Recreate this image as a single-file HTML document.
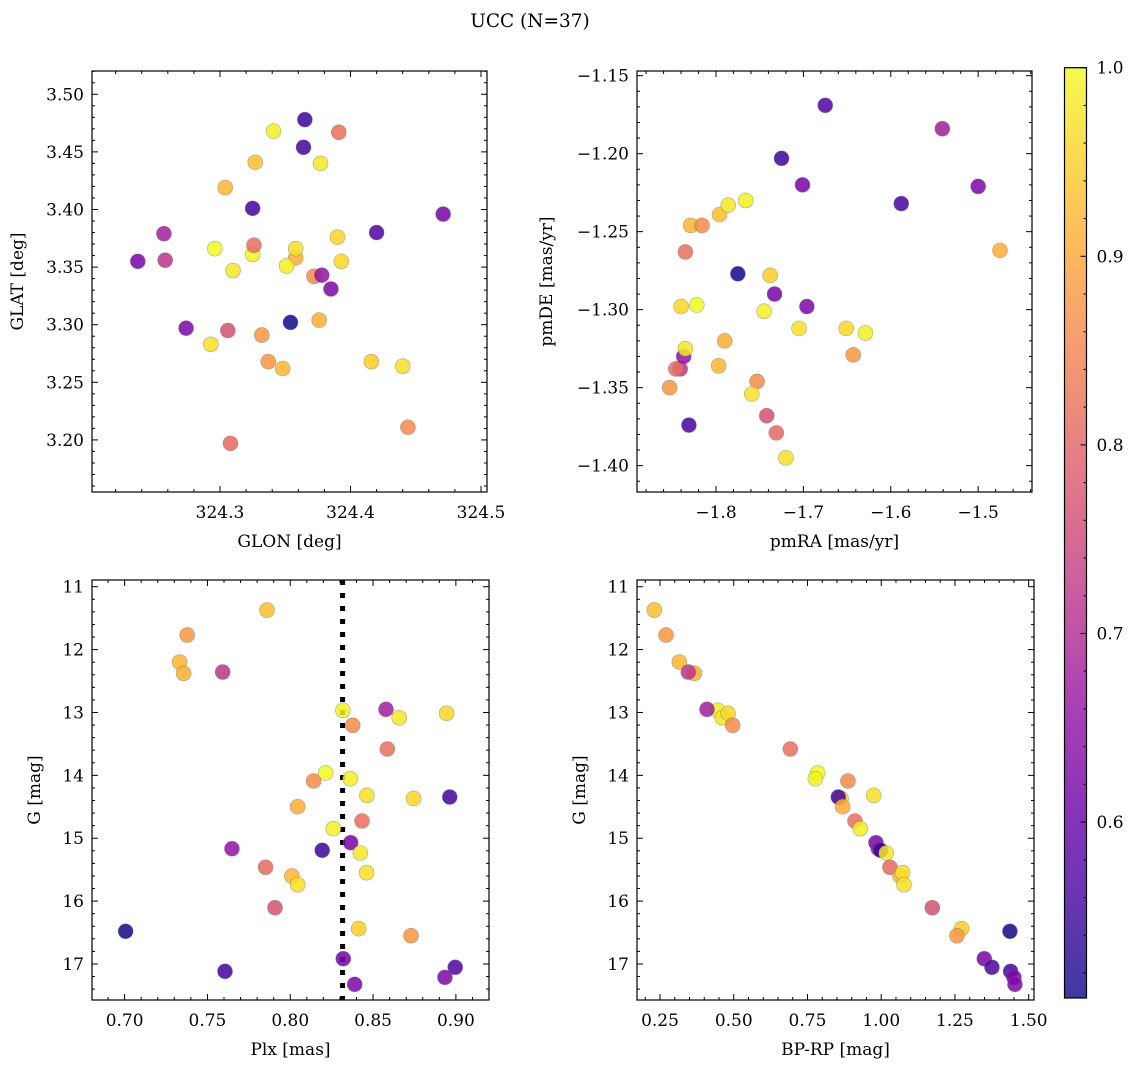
<!DOCTYPE html>
<html><head><meta charset="utf-8"><style>
html,body{margin:0;padding:0;background:#fff;}
svg{display:block;font-family:"DejaVu Serif","Liberation Serif",serif;}
</style></head><body>
<svg id="fig" width="1136" height="1067" viewBox="0 0 1136 1067" xmlns="http://www.w3.org/2000/svg">
<rect width="1136" height="1067" fill="#fff"/>
<text x="530" y="27" font-size="18.5" text-anchor="middle" fill="#000">UCC (N=37)</text>
<g id="layer"></g>
</svg>
<script>
// star data (order a..ak)
const glon=[324.327,324.332,324.304,324.358,324.258,324.341,324.257,324.377,324.390,324.372,324.391,324.296,324.444,324.325,324.358,324.393,324.364,324.376,324.326,324.351,324.471,324.378,324.365,324.310,324.308,324.348,324.293,324.440,324.306,324.354,324.416,324.337,324.237,324.420,324.325,324.385,324.274];
const glat=[3.441,3.291,3.419,3.358,3.356,3.468,3.379,3.440,3.376,3.342,3.467,3.366,3.211,3.361,3.366,3.355,3.454,3.304,3.369,3.351,3.396,3.343,3.478,3.347,3.197,3.262,3.283,3.264,3.295,3.302,3.268,3.268,3.355,3.380,3.401,3.331,3.297];
const pmra=[-1.796,-1.853,-1.829,-1.475,-1.841,-1.766,-1.541,-1.786,-1.840,-1.816,-1.835,-1.822,-1.753,-1.745,-1.705,-1.651,-1.831,-1.790,-1.846,-1.629,-1.701,-1.837,-1.725,-1.835,-1.731,-1.797,-1.759,-1.720,-1.742,-1.775,-1.738,-1.643,-1.733,-1.675,-1.588,-1.696,-1.500];
const pmde=[-1.239,-1.350,-1.246,-1.262,-1.338,-1.230,-1.184,-1.233,-1.298,-1.246,-1.263,-1.297,-1.346,-1.301,-1.312,-1.312,-1.374,-1.320,-1.338,-1.315,-1.220,-1.330,-1.203,-1.325,-1.379,-1.336,-1.354,-1.395,-1.368,-1.277,-1.278,-1.329,-1.290,-1.169,-1.232,-1.298,-1.221];
const plx=[0.7860,0.7378,0.7332,0.7356,0.7592,0.8318,0.8578,0.8658,0.8944,0.8377,0.8586,0.8214,0.8141,0.8362,0.8463,0.8745,0.8963,0.8045,0.8433,0.8260,0.8365,0.7648,0.8193,0.8423,0.7851,0.8010,0.8461,0.8045,0.7908,0.7006,0.8413,0.8729,0.8320,0.8996,0.7606,0.8934,0.8389];
const gmag=[11.371,11.768,12.197,12.377,12.357,12.966,12.950,13.083,13.013,13.204,13.581,13.963,14.090,14.053,14.318,14.366,14.345,14.499,14.726,14.848,15.071,15.167,15.192,15.235,15.462,15.600,15.548,15.739,16.105,16.480,16.438,16.550,16.916,17.053,17.117,17.213,17.324];
const bprp=[0.2308,0.2703,0.3155,0.3664,0.3460,0.4455,0.4093,0.4613,0.4805,0.4963,0.6918,0.7845,0.8873,0.7766,0.9743,0.8636,0.8545,0.8692,0.9110,0.9291,0.9822,0.9901,0.9980,1.0172,1.0297,1.0636,1.0726,1.0771,1.1732,1.4364,1.2726,1.2568,1.3494,1.3754,1.4387,1.4500,1.4534];
const prob=[0.93,0.88,0.92,0.91,0.72,0.99,0.68,0.98,0.96,0.86,0.82,1.0,0.86,0.99,0.97,0.96,0.56,0.91,0.82,0.99,0.62,0.66,0.55,0.98,0.81,0.92,0.97,0.97,0.77,0.51,0.95,0.88,0.62,0.57,0.56,0.63,0.63];
const plxLine=[0.8316];
const cbTicks=[0.6,0.7,0.8,0.9,1.0];

const NS="http://www.w3.org/2000/svg";
const layer=document.getElementById('layer');
function mk(tag,attrs,parent){const e=document.createElementNS(NS,tag);for(const k in attrs)e.setAttribute(k,attrs[k]);(parent||layer).appendChild(e);return e;}
const stops=[[0,'#0d0887'],[0.1,'#41049d'],[0.2,'#6a00a8'],[0.3,'#8f0da4'],[0.4,'#b12a90'],[0.5,'#cc4778'],[0.6,'#e16462'],[0.7,'#f2844b'],[0.8,'#fca636'],[0.9,'#fcce25'],[1,'#f0f921']];
function hx(c){return [1,3,5].map(i=>parseInt(c.substr(i,2),16));}
function plasma(t){t=Math.max(0,Math.min(1,t));for(let i=1;i<stops.length;i++){if(t<=stops[i][0]){const a=stops[i-1],b=stops[i];const f=(t-a[0])/(b[0]-a[0]);const ca=hx(a[1]),cb=hx(b[1]);return 'rgb('+ca.map((v,j)=>Math.round(v+(cb[j]-v)*f)).join(',')+')';}}return stops[10][1];}
const vmin=0.5067,vmax=1.0;
function cmap(v){return plasma((v-vmin)/(vmax-vmin));}
const FS=17;

function panel(o){
  const g=mk('g',{});
  
  
  const sx=v=>o.x0+(v-o.xmin)/(o.xmax-o.xmin)*(o.x1-o.x0);
  const sy=o.inv?(v=>o.y0+(v-o.ymin)/(o.ymax-o.ymin)*(o.y1-o.y0)):(v=>o.y1-(v-o.ymin)/(o.ymax-o.ymin)*(o.y1-o.y0));
  const tg=mk('g',{stroke:'#000','stroke-width':1},g);
  const eps=1e-9;
  for(let v=Math.ceil(o.xmin/o.xminor-eps)*o.xminor;v<=o.xmax+eps;v+=o.xminor){
    const major=Math.abs(v/o.xmajor-Math.round(v/o.xmajor))<1e-6;const L=major?6:3;const X=sx(v);
    mk('line',{x1:X,x2:X,y1:o.y1,y2:o.y1-L},tg);mk('line',{x1:X,x2:X,y1:o.y0,y2:o.y0+L},tg);
    if(major){const t=mk('text',{x:X,y:o.y1+26,'font-size':FS,'text-anchor':'middle',fill:'#000',stroke:'none'},g);t.textContent=o.xfmt(v);
      
      }
  }
  for(let v=Math.ceil(o.ymin/o.yminor-eps)*o.yminor;v<=o.ymax+eps;v+=o.yminor){
    const major=Math.abs(v/o.ymajor-Math.round(v/o.ymajor))<1e-6;const L=major?6:3;const Y=sy(v);
    mk('line',{x1:o.x0,x2:o.x0+L,y1:Y,y2:Y},tg);mk('line',{x1:o.x1,x2:o.x1-L,y1:Y,y2:Y},tg);
    if(major){const t=mk('text',{x:o.x0-8,y:Y+6,'font-size':FS,'text-anchor':'end',fill:'#000',stroke:'none'},g);t.textContent=o.yfmt(v);
      
      }
  }
  if(o.vline){for(const v of o.vline){const l=mk('line',{x1:sx(v),x2:sx(v),y1:o.y0,y2:o.y1,stroke:'#000','stroke-width':5,'stroke-dasharray':'5,8'},g);
    
    }}
  for(let i=0;i<o.xs.length;i++){
    const c=mk('circle',{cx:sx(o.xs[i]),cy:sy(o.ys[i]),r:7.5,fill:cmap(prob[i]),'fill-opacity':0.85,stroke:'#777','stroke-opacity':0.6,'stroke-width':0.6},g);
    
    
  }
  const fr=mk('rect',{x:o.x0,y:o.y0,width:o.x1-o.x0,height:o.y1-o.y0,fill:'none',stroke:'#000','stroke-width':1.2},g);
  
  
  const xl=mk('text',{x:(o.x0+o.x1)/2,y:o.y1+55,'font-size':FS,'text-anchor':'middle',fill:'#000'},g);xl.textContent=o.xlabel;
  
  
  const yx=o.ylx,yy=(o.y0+o.y1)/2;
  const yl=mk('text',{x:yx,y:yy,'font-size':FS,'text-anchor':'middle',fill:'#000',transform:'rotate(-90 '+yx+' '+yy+')'},g);yl.textContent=o.ylabel;
  
  
}
const f1=v=>v.toFixed(1),f2=v=>v.toFixed(2),f0=v=>v.toFixed(0);
const neg=f=>v=>{const s=f(v);return s.replace('-','\u2212');};
panel({name:'glon-glat-panel',x0:92,x1:487,y0:71,y1:492,xmin:324.2019,xmax:324.5046,ymin:3.1548,ymax:3.5202,xmajor:0.1,xminor:0.02,ymajor:0.05,yminor:0.01,xfmt:f1,yfmt:f2,xs:glon,ys:glat,xlabel:'GLON [deg]',ylabel:'GLAT [deg]',ylx:23});
panel({name:'proper-motion-panel',x0:637,x1:1032,y0:71,y1:492,xmin:-1.8904,xmax:-1.4384,ymin:-1.4169,ymax:-1.1470,xmajor:0.1,xminor:0.02,ymajor:0.05,yminor:0.01,xfmt:neg(f1),yfmt:neg(f2),xs:pmra,ys:pmde,xlabel:'pmRA [mas/yr]',ylabel:'pmDE [mas/yr]',ylx:552});
panel({name:'plx-g-panel',x0:92,x1:489,y0:580,y1:1000,xmin:0.6803,xmax:0.9200,ymin:10.893,ymax:17.573,inv:true,xmajor:0.05,xminor:0.01,ymajor:1,yminor:0.2,xfmt:f2,yfmt:f0,xs:plx,ys:gmag,xlabel:'Plx [mas]',ylabel:'G [mag]',ylx:40,vline:plxLine});
panel({name:'cmd-panel',x0:637,x1:1034,y0:580,y1:1000,xmin:0.172,xmax:1.518,ymin:10.893,ymax:17.573,inv:true,xmajor:0.25,xminor:0.05,ymajor:1,yminor:0.2,xfmt:f2,yfmt:f0,xs:bprp,ys:gmag,xlabel:'BP-RP [mag]',ylabel:'G [mag]',ylx:585});

// colorbar
const cb=mk('g',{});


const defs=mk('defs',{},cb);
const lg=mk('linearGradient',{id:'cbg',x1:0,y1:1,x2:0,y2:0},defs);
for(let i=0;i<=20;i++){mk('stop',{offset:i/20,'stop-color':plasma(i/20)},lg);}
const cx0=1064.5,cx1=1086.5,cy0=67.7,cy1=998;
mk('rect',{x:cx0,y:cy0,width:cx1-cx0,height:cy1-cy0,fill:'url(#cbg)','fill-opacity':0.8},cb);
mk('rect',{x:cx0,y:cy0,width:cx1-cx0,height:cy1-cy0,fill:'none',stroke:'#000','stroke-width':1.2},cb);
const cby=v=>cy1-(v-vmin)/(vmax-vmin)*(cy1-cy0);
for(let v=0.52;v<=1.0001;v+=0.02){const Y=cby(v);const major=Math.abs(v*10-Math.round(v*10))<1e-6;mk('line',{x1:cx1,x2:cx1-(major?6:3),y1:Y,y2:Y,stroke:'#000','stroke-width':1},cb);}
for(const v of cbTicks){const t=mk('text',{x:cx1+10,y:cby(v)+6,'font-size':FS,fill:'#000'},cb);t.textContent=v.toFixed(1);
  
  }
</script>
</body></html>
